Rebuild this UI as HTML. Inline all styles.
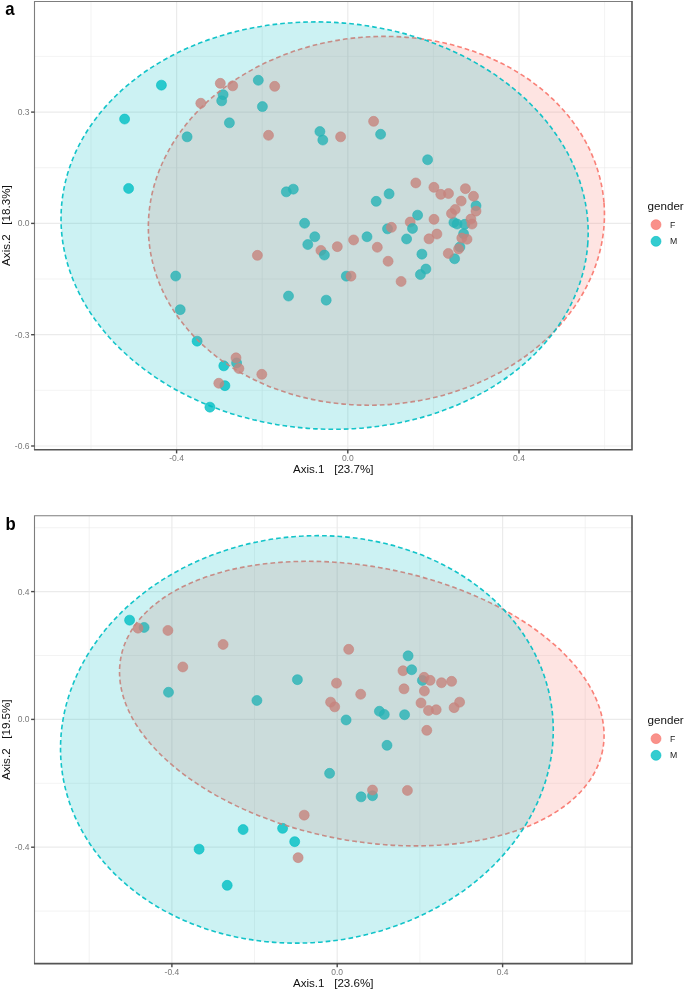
<!DOCTYPE html>
<html lang="en">
<head>
<meta charset="utf-8">
<title>PCoA by gender</title>
<style>
html,body{margin:0;padding:0;background:#fff;}
body{width:685px;height:991px;overflow:hidden;}
svg{display:block;will-change:transform;}
text{white-space:pre;font-family:"Liberation Sans",sans-serif;}
.tk{font-size:8.5px;fill:#787878;}
.lg{font-size:8.7px;fill:#1a1a1a;}
.tt{font-size:11.6px;fill:#111;}
.pl{font-size:18px;font-weight:bold;fill:#000;}
</style>
</head>
<body>
<svg width="685" height="991" viewBox="0 0 685 991">
<rect width="685" height="991" fill="#fff"/>
<g id="panel-a">
<line x1="91" y1="1.5" x2="91" y2="449.7" stroke="#ebebeb" stroke-width="0.6"/>
<line x1="262.2" y1="1.5" x2="262.2" y2="449.7" stroke="#ebebeb" stroke-width="0.6"/>
<line x1="433.4" y1="1.5" x2="433.4" y2="449.7" stroke="#ebebeb" stroke-width="0.6"/>
<line x1="604.6" y1="1.5" x2="604.6" y2="449.7" stroke="#ebebeb" stroke-width="0.6"/>
<line x1="34.5" y1="56.4" x2="632" y2="56.4" stroke="#ebebeb" stroke-width="0.6"/>
<line x1="34.5" y1="167.7" x2="632" y2="167.7" stroke="#ebebeb" stroke-width="0.6"/>
<line x1="34.5" y1="279" x2="632" y2="279" stroke="#ebebeb" stroke-width="0.6"/>
<line x1="34.5" y1="390.3" x2="632" y2="390.3" stroke="#ebebeb" stroke-width="0.6"/>
<line x1="176.6" y1="1.5" x2="176.6" y2="449.7" stroke="#ebebeb" stroke-width="1.2"/>
<line x1="347.8" y1="1.5" x2="347.8" y2="449.7" stroke="#ebebeb" stroke-width="1.2"/>
<line x1="519" y1="1.5" x2="519" y2="449.7" stroke="#ebebeb" stroke-width="1.2"/>
<line x1="34.5" y1="112.1" x2="632" y2="112.1" stroke="#ebebeb" stroke-width="1.2"/>
<line x1="34.5" y1="223.4" x2="632" y2="223.4" stroke="#ebebeb" stroke-width="1.2"/>
<line x1="34.5" y1="334.7" x2="632" y2="334.7" stroke="#ebebeb" stroke-width="1.2"/>
<line x1="34.5" y1="446" x2="632" y2="446" stroke="#ebebeb" stroke-width="1.2"/>
<circle cx="161.4" cy="85.15" r="5" fill="#00BFC4" fill-opacity="0.8" stroke="#00BFC4" stroke-opacity="0.8" stroke-width="0.7"/>
<circle cx="124.6" cy="119.05" r="5" fill="#00BFC4" fill-opacity="0.8" stroke="#00BFC4" stroke-opacity="0.8" stroke-width="0.7"/>
<circle cx="128.6" cy="188.45" r="5" fill="#00BFC4" fill-opacity="0.8" stroke="#00BFC4" stroke-opacity="0.8" stroke-width="0.7"/>
<circle cx="223.1" cy="94.65" r="5" fill="#00BFC4" fill-opacity="0.8" stroke="#00BFC4" stroke-opacity="0.8" stroke-width="0.7"/>
<circle cx="221.7" cy="100.85" r="5" fill="#00BFC4" fill-opacity="0.8" stroke="#00BFC4" stroke-opacity="0.8" stroke-width="0.7"/>
<circle cx="258.3" cy="80.25" r="5" fill="#00BFC4" fill-opacity="0.8" stroke="#00BFC4" stroke-opacity="0.8" stroke-width="0.7"/>
<circle cx="262.4" cy="106.6" r="5" fill="#00BFC4" fill-opacity="0.8" stroke="#00BFC4" stroke-opacity="0.8" stroke-width="0.7"/>
<circle cx="229.4" cy="122.85" r="5" fill="#00BFC4" fill-opacity="0.8" stroke="#00BFC4" stroke-opacity="0.8" stroke-width="0.7"/>
<circle cx="187.1" cy="136.85" r="5" fill="#00BFC4" fill-opacity="0.8" stroke="#00BFC4" stroke-opacity="0.8" stroke-width="0.7"/>
<circle cx="319.9" cy="131.55" r="5" fill="#00BFC4" fill-opacity="0.8" stroke="#00BFC4" stroke-opacity="0.8" stroke-width="0.7"/>
<circle cx="322.8" cy="140.05" r="5" fill="#00BFC4" fill-opacity="0.8" stroke="#00BFC4" stroke-opacity="0.8" stroke-width="0.7"/>
<circle cx="380.6" cy="134.25" r="5" fill="#00BFC4" fill-opacity="0.8" stroke="#00BFC4" stroke-opacity="0.8" stroke-width="0.7"/>
<circle cx="427.6" cy="159.75" r="5" fill="#00BFC4" fill-opacity="0.8" stroke="#00BFC4" stroke-opacity="0.8" stroke-width="0.7"/>
<circle cx="293.3" cy="189.15" r="5" fill="#00BFC4" fill-opacity="0.8" stroke="#00BFC4" stroke-opacity="0.8" stroke-width="0.7"/>
<circle cx="286.3" cy="191.85" r="5" fill="#00BFC4" fill-opacity="0.8" stroke="#00BFC4" stroke-opacity="0.8" stroke-width="0.7"/>
<circle cx="389.1" cy="193.85" r="5" fill="#00BFC4" fill-opacity="0.8" stroke="#00BFC4" stroke-opacity="0.8" stroke-width="0.7"/>
<circle cx="376.2" cy="201.35" r="5" fill="#00BFC4" fill-opacity="0.8" stroke="#00BFC4" stroke-opacity="0.8" stroke-width="0.7"/>
<circle cx="304.6" cy="223.25" r="5" fill="#00BFC4" fill-opacity="0.8" stroke="#00BFC4" stroke-opacity="0.8" stroke-width="0.7"/>
<circle cx="314.8" cy="236.75" r="5" fill="#00BFC4" fill-opacity="0.8" stroke="#00BFC4" stroke-opacity="0.8" stroke-width="0.7"/>
<circle cx="307.8" cy="244.55" r="5" fill="#00BFC4" fill-opacity="0.8" stroke="#00BFC4" stroke-opacity="0.8" stroke-width="0.7"/>
<circle cx="367" cy="236.75" r="5" fill="#00BFC4" fill-opacity="0.8" stroke="#00BFC4" stroke-opacity="0.8" stroke-width="0.7"/>
<circle cx="387.5" cy="228.85" r="5" fill="#00BFC4" fill-opacity="0.8" stroke="#00BFC4" stroke-opacity="0.8" stroke-width="0.7"/>
<circle cx="417.6" cy="215.15" r="5" fill="#00BFC4" fill-opacity="0.8" stroke="#00BFC4" stroke-opacity="0.8" stroke-width="0.7"/>
<circle cx="406.6" cy="238.95" r="5" fill="#00BFC4" fill-opacity="0.8" stroke="#00BFC4" stroke-opacity="0.8" stroke-width="0.7"/>
<circle cx="421.9" cy="254.15" r="5" fill="#00BFC4" fill-opacity="0.8" stroke="#00BFC4" stroke-opacity="0.8" stroke-width="0.7"/>
<circle cx="425.9" cy="269.05" r="5" fill="#00BFC4" fill-opacity="0.8" stroke="#00BFC4" stroke-opacity="0.8" stroke-width="0.7"/>
<circle cx="420.4" cy="274.55" r="5" fill="#00BFC4" fill-opacity="0.8" stroke="#00BFC4" stroke-opacity="0.8" stroke-width="0.7"/>
<circle cx="346.3" cy="276.15" r="5" fill="#00BFC4" fill-opacity="0.8" stroke="#00BFC4" stroke-opacity="0.8" stroke-width="0.7"/>
<circle cx="288.5" cy="296.05" r="5" fill="#00BFC4" fill-opacity="0.8" stroke="#00BFC4" stroke-opacity="0.8" stroke-width="0.7"/>
<circle cx="326.2" cy="300.15" r="5" fill="#00BFC4" fill-opacity="0.8" stroke="#00BFC4" stroke-opacity="0.8" stroke-width="0.7"/>
<circle cx="476" cy="205.75" r="5" fill="#00BFC4" fill-opacity="0.8" stroke="#00BFC4" stroke-opacity="0.8" stroke-width="0.7"/>
<circle cx="453.9" cy="222.45" r="5" fill="#00BFC4" fill-opacity="0.8" stroke="#00BFC4" stroke-opacity="0.8" stroke-width="0.7"/>
<circle cx="457.1" cy="224.05" r="5" fill="#00BFC4" fill-opacity="0.8" stroke="#00BFC4" stroke-opacity="0.8" stroke-width="0.7"/>
<circle cx="464.7" cy="224.35" r="5" fill="#00BFC4" fill-opacity="0.8" stroke="#00BFC4" stroke-opacity="0.8" stroke-width="0.7"/>
<circle cx="463.6" cy="233.75" r="5" fill="#00BFC4" fill-opacity="0.8" stroke="#00BFC4" stroke-opacity="0.8" stroke-width="0.7"/>
<circle cx="459.9" cy="246.95" r="5" fill="#00BFC4" fill-opacity="0.8" stroke="#00BFC4" stroke-opacity="0.8" stroke-width="0.7"/>
<circle cx="454.6" cy="258.75" r="5" fill="#00BFC4" fill-opacity="0.8" stroke="#00BFC4" stroke-opacity="0.8" stroke-width="0.7"/>
<circle cx="175.7" cy="276.05" r="5" fill="#00BFC4" fill-opacity="0.8" stroke="#00BFC4" stroke-opacity="0.8" stroke-width="0.7"/>
<circle cx="180.2" cy="309.65" r="5" fill="#00BFC4" fill-opacity="0.8" stroke="#00BFC4" stroke-opacity="0.8" stroke-width="0.7"/>
<circle cx="197.1" cy="341.15" r="5" fill="#00BFC4" fill-opacity="0.8" stroke="#00BFC4" stroke-opacity="0.8" stroke-width="0.7"/>
<circle cx="236.6" cy="362.95" r="5" fill="#00BFC4" fill-opacity="0.8" stroke="#00BFC4" stroke-opacity="0.8" stroke-width="0.7"/>
<circle cx="223.8" cy="365.85" r="5" fill="#00BFC4" fill-opacity="0.8" stroke="#00BFC4" stroke-opacity="0.8" stroke-width="0.7"/>
<circle cx="224.9" cy="385.65" r="5" fill="#00BFC4" fill-opacity="0.8" stroke="#00BFC4" stroke-opacity="0.8" stroke-width="0.7"/>
<circle cx="209.9" cy="407.15" r="5" fill="#00BFC4" fill-opacity="0.8" stroke="#00BFC4" stroke-opacity="0.8" stroke-width="0.7"/>
<circle cx="220.3" cy="83.35" r="5" fill="#F8766D" fill-opacity="0.8" stroke="#F8766D" stroke-opacity="0.8" stroke-width="0.7"/>
<circle cx="232.7" cy="85.85" r="5" fill="#F8766D" fill-opacity="0.8" stroke="#F8766D" stroke-opacity="0.8" stroke-width="0.7"/>
<circle cx="200.8" cy="103.25" r="5" fill="#F8766D" fill-opacity="0.8" stroke="#F8766D" stroke-opacity="0.8" stroke-width="0.7"/>
<circle cx="274.7" cy="86.35" r="5" fill="#F8766D" fill-opacity="0.8" stroke="#F8766D" stroke-opacity="0.8" stroke-width="0.7"/>
<circle cx="268.5" cy="135.3" r="5" fill="#F8766D" fill-opacity="0.8" stroke="#F8766D" stroke-opacity="0.8" stroke-width="0.7"/>
<circle cx="340.6" cy="136.85" r="5" fill="#F8766D" fill-opacity="0.8" stroke="#F8766D" stroke-opacity="0.8" stroke-width="0.7"/>
<circle cx="373.6" cy="121.35" r="5" fill="#F8766D" fill-opacity="0.8" stroke="#F8766D" stroke-opacity="0.8" stroke-width="0.7"/>
<circle cx="415.8" cy="182.95" r="5" fill="#F8766D" fill-opacity="0.8" stroke="#F8766D" stroke-opacity="0.8" stroke-width="0.7"/>
<circle cx="433.9" cy="187.35" r="5" fill="#F8766D" fill-opacity="0.8" stroke="#F8766D" stroke-opacity="0.8" stroke-width="0.7"/>
<circle cx="440.8" cy="194.35" r="5" fill="#F8766D" fill-opacity="0.8" stroke="#F8766D" stroke-opacity="0.8" stroke-width="0.7"/>
<circle cx="448.5" cy="193.55" r="5" fill="#F8766D" fill-opacity="0.8" stroke="#F8766D" stroke-opacity="0.8" stroke-width="0.7"/>
<circle cx="465.4" cy="188.65" r="5" fill="#F8766D" fill-opacity="0.8" stroke="#F8766D" stroke-opacity="0.8" stroke-width="0.7"/>
<circle cx="473.5" cy="196.25" r="5" fill="#F8766D" fill-opacity="0.8" stroke="#F8766D" stroke-opacity="0.8" stroke-width="0.7"/>
<circle cx="461.2" cy="201.05" r="5" fill="#F8766D" fill-opacity="0.8" stroke="#F8766D" stroke-opacity="0.8" stroke-width="0.7"/>
<circle cx="476" cy="211.15" r="5" fill="#F8766D" fill-opacity="0.8" stroke="#F8766D" stroke-opacity="0.8" stroke-width="0.7"/>
<circle cx="455.2" cy="209.45" r="5" fill="#F8766D" fill-opacity="0.8" stroke="#F8766D" stroke-opacity="0.8" stroke-width="0.7"/>
<circle cx="451.5" cy="213.55" r="5" fill="#F8766D" fill-opacity="0.8" stroke="#F8766D" stroke-opacity="0.8" stroke-width="0.7"/>
<circle cx="470.9" cy="219.05" r="5" fill="#F8766D" fill-opacity="0.8" stroke="#F8766D" stroke-opacity="0.8" stroke-width="0.7"/>
<circle cx="472" cy="224.05" r="5" fill="#F8766D" fill-opacity="0.8" stroke="#F8766D" stroke-opacity="0.8" stroke-width="0.7"/>
<circle cx="461.8" cy="238.05" r="5" fill="#F8766D" fill-opacity="0.8" stroke="#F8766D" stroke-opacity="0.8" stroke-width="0.7"/>
<circle cx="467" cy="239.25" r="5" fill="#F8766D" fill-opacity="0.8" stroke="#F8766D" stroke-opacity="0.8" stroke-width="0.7"/>
<circle cx="458.6" cy="248.95" r="5" fill="#F8766D" fill-opacity="0.8" stroke="#F8766D" stroke-opacity="0.8" stroke-width="0.7"/>
<circle cx="448.3" cy="253.45" r="5" fill="#F8766D" fill-opacity="0.8" stroke="#F8766D" stroke-opacity="0.8" stroke-width="0.7"/>
<circle cx="434" cy="219.35" r="5" fill="#F8766D" fill-opacity="0.8" stroke="#F8766D" stroke-opacity="0.8" stroke-width="0.7"/>
<circle cx="436.9" cy="234.05" r="5" fill="#F8766D" fill-opacity="0.8" stroke="#F8766D" stroke-opacity="0.8" stroke-width="0.7"/>
<circle cx="429" cy="238.85" r="5" fill="#F8766D" fill-opacity="0.8" stroke="#F8766D" stroke-opacity="0.8" stroke-width="0.7"/>
<circle cx="410.2" cy="222.05" r="5" fill="#F8766D" fill-opacity="0.8" stroke="#F8766D" stroke-opacity="0.8" stroke-width="0.7"/>
<circle cx="391.4" cy="227.35" r="5" fill="#F8766D" fill-opacity="0.8" stroke="#F8766D" stroke-opacity="0.8" stroke-width="0.7"/>
<circle cx="401.1" cy="281.45" r="5" fill="#F8766D" fill-opacity="0.8" stroke="#F8766D" stroke-opacity="0.8" stroke-width="0.7"/>
<circle cx="388.1" cy="261.25" r="5" fill="#F8766D" fill-opacity="0.8" stroke="#F8766D" stroke-opacity="0.8" stroke-width="0.7"/>
<circle cx="377.3" cy="247.25" r="5" fill="#F8766D" fill-opacity="0.8" stroke="#F8766D" stroke-opacity="0.8" stroke-width="0.7"/>
<circle cx="353.6" cy="239.95" r="5" fill="#F8766D" fill-opacity="0.8" stroke="#F8766D" stroke-opacity="0.8" stroke-width="0.7"/>
<circle cx="337.3" cy="246.65" r="5" fill="#F8766D" fill-opacity="0.8" stroke="#F8766D" stroke-opacity="0.8" stroke-width="0.7"/>
<circle cx="320.9" cy="250.45" r="5" fill="#F8766D" fill-opacity="0.8" stroke="#F8766D" stroke-opacity="0.8" stroke-width="0.7"/>
<circle cx="351" cy="276.15" r="5" fill="#F8766D" fill-opacity="0.8" stroke="#F8766D" stroke-opacity="0.8" stroke-width="0.7"/>
<circle cx="257.4" cy="255.35" r="5" fill="#F8766D" fill-opacity="0.8" stroke="#F8766D" stroke-opacity="0.8" stroke-width="0.7"/>
<circle cx="236" cy="357.85" r="5" fill="#F8766D" fill-opacity="0.8" stroke="#F8766D" stroke-opacity="0.8" stroke-width="0.7"/>
<circle cx="238.9" cy="368.55" r="5" fill="#F8766D" fill-opacity="0.8" stroke="#F8766D" stroke-opacity="0.8" stroke-width="0.7"/>
<circle cx="261.8" cy="374.35" r="5" fill="#F8766D" fill-opacity="0.8" stroke="#F8766D" stroke-opacity="0.8" stroke-width="0.7"/>
<circle cx="218.8" cy="383.25" r="5" fill="#F8766D" fill-opacity="0.8" stroke="#F8766D" stroke-opacity="0.8" stroke-width="0.7"/>
<circle cx="324.4" cy="255.05" r="5" fill="#00BFC4" fill-opacity="0.8" stroke="#00BFC4" stroke-opacity="0.8" stroke-width="0.7"/>
<circle cx="412.5" cy="228.45" r="5" fill="#00BFC4" fill-opacity="0.8" stroke="#00BFC4" stroke-opacity="0.8" stroke-width="0.7"/>
<ellipse cx="0" cy="0" rx="228.3" ry="184.1" transform="translate(376.4 220.8) rotate(-4.49)" fill="#F8766D" fill-opacity="0.2" stroke="#F8766D" stroke-width="1.6" stroke-opacity="0.92" stroke-dasharray="4.7 3"/>
<ellipse cx="0" cy="0" rx="263.8" ry="203.4" transform="translate(324.6 225.6) rotate(3.73)" fill="#00BFC4" fill-opacity="0.2" stroke="#00BFC4" stroke-width="1.6" stroke-opacity="0.92" stroke-dasharray="4.7 3"/>
<path d="M34.5 449.7 V1.5 H632" fill="none" stroke="#7d7d7d" stroke-width="1.1"/>
<path d="M33.95 449.7 H632 V0.95" fill="none" stroke="#555" stroke-width="1.6" stroke-linejoin="miter"/>
<line x1="176.6" y1="449.7" x2="176.6" y2="453.4" stroke="#484848" stroke-width="1.4"/>
<text x="176.6" y="460.9" class="tk" text-anchor="middle">-0.4</text>
<line x1="347.8" y1="449.7" x2="347.8" y2="453.4" stroke="#484848" stroke-width="1.4"/>
<text x="347.8" y="460.9" class="tk" text-anchor="middle">0.0</text>
<line x1="519" y1="449.7" x2="519" y2="453.4" stroke="#484848" stroke-width="1.4"/>
<text x="519" y="460.9" class="tk" text-anchor="middle">0.4</text>
<line x1="31.1" y1="112.1" x2="34.5" y2="112.1" stroke="#484848" stroke-width="1.4"/>
<text x="29.5" y="115.15" class="tk" text-anchor="end">0.3</text>
<line x1="31.1" y1="223.4" x2="34.5" y2="223.4" stroke="#484848" stroke-width="1.4"/>
<text x="29.5" y="226.45" class="tk" text-anchor="end">0.0</text>
<line x1="31.1" y1="334.7" x2="34.5" y2="334.7" stroke="#484848" stroke-width="1.4"/>
<text x="29.5" y="337.75" class="tk" text-anchor="end">-0.3</text>
<line x1="31.1" y1="446" x2="34.5" y2="446" stroke="#484848" stroke-width="1.4"/>
<text x="29.5" y="449.05" class="tk" text-anchor="end">-0.6</text>
<text x="333.25" y="472.9" class="tt" text-anchor="middle" xml:space="preserve">Axis.1   [23.7%]</text>
<text transform="translate(10.3 225.6) rotate(-90)" class="tt" text-anchor="middle" xml:space="preserve">Axis.2   [18.3%]</text>
<text transform="translate(5.2 14.9) scale(0.93 1)" class="pl">a</text>
<text x="647.6" y="209.5" class="tt">gender</text>
<circle cx="656" cy="224.65" r="5" fill="#F8766D" fill-opacity="0.8" stroke="#F8766D" stroke-opacity="0.8" stroke-width="0.7"/>
<circle cx="656" cy="241.35" r="5" fill="#00BFC4" fill-opacity="0.8" stroke="#00BFC4" stroke-opacity="0.8" stroke-width="0.7"/>
<text x="670" y="227.75" class="lg">F</text>
<text x="670" y="244.45" class="lg">M</text>
</g>
<g id="panel-b">
<line x1="89.2" y1="515.8" x2="89.2" y2="963.6" stroke="#ebebeb" stroke-width="0.6"/>
<line x1="254.5" y1="515.8" x2="254.5" y2="963.6" stroke="#ebebeb" stroke-width="0.6"/>
<line x1="419.9" y1="515.8" x2="419.9" y2="963.6" stroke="#ebebeb" stroke-width="0.6"/>
<line x1="585.2" y1="515.8" x2="585.2" y2="963.6" stroke="#ebebeb" stroke-width="0.6"/>
<line x1="34.5" y1="527.7" x2="632" y2="527.7" stroke="#ebebeb" stroke-width="0.6"/>
<line x1="34.5" y1="655.5" x2="632" y2="655.5" stroke="#ebebeb" stroke-width="0.6"/>
<line x1="34.5" y1="783.3" x2="632" y2="783.3" stroke="#ebebeb" stroke-width="0.6"/>
<line x1="34.5" y1="911.1" x2="632" y2="911.1" stroke="#ebebeb" stroke-width="0.6"/>
<line x1="171.9" y1="515.8" x2="171.9" y2="963.6" stroke="#ebebeb" stroke-width="1.2"/>
<line x1="337.2" y1="515.8" x2="337.2" y2="963.6" stroke="#ebebeb" stroke-width="1.2"/>
<line x1="502.6" y1="515.8" x2="502.6" y2="963.6" stroke="#ebebeb" stroke-width="1.2"/>
<line x1="34.5" y1="591.6" x2="632" y2="591.6" stroke="#ebebeb" stroke-width="1.2"/>
<line x1="34.5" y1="719.4" x2="632" y2="719.4" stroke="#ebebeb" stroke-width="1.2"/>
<line x1="34.5" y1="847.2" x2="632" y2="847.2" stroke="#ebebeb" stroke-width="1.2"/>
<circle cx="129.6" cy="620.15" r="5" fill="#00BFC4" fill-opacity="0.8" stroke="#00BFC4" stroke-opacity="0.8" stroke-width="0.7"/>
<circle cx="144.1" cy="627.45" r="5" fill="#00BFC4" fill-opacity="0.8" stroke="#00BFC4" stroke-opacity="0.8" stroke-width="0.7"/>
<circle cx="168.5" cy="692.25" r="5" fill="#00BFC4" fill-opacity="0.8" stroke="#00BFC4" stroke-opacity="0.8" stroke-width="0.7"/>
<circle cx="256.9" cy="700.45" r="5" fill="#00BFC4" fill-opacity="0.8" stroke="#00BFC4" stroke-opacity="0.8" stroke-width="0.7"/>
<circle cx="297.4" cy="679.65" r="5" fill="#00BFC4" fill-opacity="0.8" stroke="#00BFC4" stroke-opacity="0.8" stroke-width="0.7"/>
<circle cx="408.1" cy="655.85" r="5" fill="#00BFC4" fill-opacity="0.8" stroke="#00BFC4" stroke-opacity="0.8" stroke-width="0.7"/>
<circle cx="346.1" cy="719.95" r="5" fill="#00BFC4" fill-opacity="0.8" stroke="#00BFC4" stroke-opacity="0.8" stroke-width="0.7"/>
<circle cx="379.4" cy="711.25" r="5" fill="#00BFC4" fill-opacity="0.8" stroke="#00BFC4" stroke-opacity="0.8" stroke-width="0.7"/>
<circle cx="384.3" cy="714.45" r="5" fill="#00BFC4" fill-opacity="0.8" stroke="#00BFC4" stroke-opacity="0.8" stroke-width="0.7"/>
<circle cx="404.6" cy="714.75" r="5" fill="#00BFC4" fill-opacity="0.8" stroke="#00BFC4" stroke-opacity="0.8" stroke-width="0.7"/>
<circle cx="422.4" cy="680.45" r="5" fill="#00BFC4" fill-opacity="0.8" stroke="#00BFC4" stroke-opacity="0.8" stroke-width="0.7"/>
<circle cx="387" cy="745.35" r="5" fill="#00BFC4" fill-opacity="0.8" stroke="#00BFC4" stroke-opacity="0.8" stroke-width="0.7"/>
<circle cx="329.6" cy="773.35" r="5" fill="#00BFC4" fill-opacity="0.8" stroke="#00BFC4" stroke-opacity="0.8" stroke-width="0.7"/>
<circle cx="361.1" cy="796.85" r="5" fill="#00BFC4" fill-opacity="0.8" stroke="#00BFC4" stroke-opacity="0.8" stroke-width="0.7"/>
<circle cx="372.5" cy="795.75" r="5" fill="#00BFC4" fill-opacity="0.8" stroke="#00BFC4" stroke-opacity="0.8" stroke-width="0.7"/>
<circle cx="282.6" cy="828.35" r="5" fill="#00BFC4" fill-opacity="0.8" stroke="#00BFC4" stroke-opacity="0.8" stroke-width="0.7"/>
<circle cx="243.1" cy="829.55" r="5" fill="#00BFC4" fill-opacity="0.8" stroke="#00BFC4" stroke-opacity="0.8" stroke-width="0.7"/>
<circle cx="294.7" cy="841.65" r="5" fill="#00BFC4" fill-opacity="0.8" stroke="#00BFC4" stroke-opacity="0.8" stroke-width="0.7"/>
<circle cx="199.1" cy="849.15" r="5" fill="#00BFC4" fill-opacity="0.8" stroke="#00BFC4" stroke-opacity="0.8" stroke-width="0.7"/>
<circle cx="227.2" cy="885.35" r="5" fill="#00BFC4" fill-opacity="0.8" stroke="#00BFC4" stroke-opacity="0.8" stroke-width="0.7"/>
<circle cx="138" cy="628.15" r="5" fill="#F8766D" fill-opacity="0.8" stroke="#F8766D" stroke-opacity="0.8" stroke-width="0.7"/>
<circle cx="167.9" cy="630.45" r="5" fill="#F8766D" fill-opacity="0.8" stroke="#F8766D" stroke-opacity="0.8" stroke-width="0.7"/>
<circle cx="223.1" cy="644.45" r="5" fill="#F8766D" fill-opacity="0.8" stroke="#F8766D" stroke-opacity="0.8" stroke-width="0.7"/>
<circle cx="182.8" cy="666.95" r="5" fill="#F8766D" fill-opacity="0.8" stroke="#F8766D" stroke-opacity="0.8" stroke-width="0.7"/>
<circle cx="348.7" cy="649.35" r="5" fill="#F8766D" fill-opacity="0.8" stroke="#F8766D" stroke-opacity="0.8" stroke-width="0.7"/>
<circle cx="403" cy="670.75" r="5" fill="#F8766D" fill-opacity="0.8" stroke="#F8766D" stroke-opacity="0.8" stroke-width="0.7"/>
<circle cx="336.5" cy="683.15" r="5" fill="#F8766D" fill-opacity="0.8" stroke="#F8766D" stroke-opacity="0.8" stroke-width="0.7"/>
<circle cx="360.7" cy="694.25" r="5" fill="#F8766D" fill-opacity="0.8" stroke="#F8766D" stroke-opacity="0.8" stroke-width="0.7"/>
<circle cx="330.6" cy="702.15" r="5" fill="#F8766D" fill-opacity="0.8" stroke="#F8766D" stroke-opacity="0.8" stroke-width="0.7"/>
<circle cx="334.7" cy="706.85" r="5" fill="#F8766D" fill-opacity="0.8" stroke="#F8766D" stroke-opacity="0.8" stroke-width="0.7"/>
<circle cx="404" cy="688.85" r="5" fill="#F8766D" fill-opacity="0.8" stroke="#F8766D" stroke-opacity="0.8" stroke-width="0.7"/>
<circle cx="424.1" cy="677.35" r="5" fill="#F8766D" fill-opacity="0.8" stroke="#F8766D" stroke-opacity="0.8" stroke-width="0.7"/>
<circle cx="430.1" cy="680.35" r="5" fill="#F8766D" fill-opacity="0.8" stroke="#F8766D" stroke-opacity="0.8" stroke-width="0.7"/>
<circle cx="441.5" cy="682.75" r="5" fill="#F8766D" fill-opacity="0.8" stroke="#F8766D" stroke-opacity="0.8" stroke-width="0.7"/>
<circle cx="451.6" cy="681.35" r="5" fill="#F8766D" fill-opacity="0.8" stroke="#F8766D" stroke-opacity="0.8" stroke-width="0.7"/>
<circle cx="424.4" cy="691.05" r="5" fill="#F8766D" fill-opacity="0.8" stroke="#F8766D" stroke-opacity="0.8" stroke-width="0.7"/>
<circle cx="421" cy="702.95" r="5" fill="#F8766D" fill-opacity="0.8" stroke="#F8766D" stroke-opacity="0.8" stroke-width="0.7"/>
<circle cx="428.5" cy="710.55" r="5" fill="#F8766D" fill-opacity="0.8" stroke="#F8766D" stroke-opacity="0.8" stroke-width="0.7"/>
<circle cx="436.2" cy="709.75" r="5" fill="#F8766D" fill-opacity="0.8" stroke="#F8766D" stroke-opacity="0.8" stroke-width="0.7"/>
<circle cx="454.1" cy="707.65" r="5" fill="#F8766D" fill-opacity="0.8" stroke="#F8766D" stroke-opacity="0.8" stroke-width="0.7"/>
<circle cx="459.6" cy="702.15" r="5" fill="#F8766D" fill-opacity="0.8" stroke="#F8766D" stroke-opacity="0.8" stroke-width="0.7"/>
<circle cx="426.8" cy="730.35" r="5" fill="#F8766D" fill-opacity="0.8" stroke="#F8766D" stroke-opacity="0.8" stroke-width="0.7"/>
<circle cx="372.5" cy="790.05" r="5" fill="#F8766D" fill-opacity="0.8" stroke="#F8766D" stroke-opacity="0.8" stroke-width="0.7"/>
<circle cx="407.4" cy="790.45" r="5" fill="#F8766D" fill-opacity="0.8" stroke="#F8766D" stroke-opacity="0.8" stroke-width="0.7"/>
<circle cx="304.2" cy="815.15" r="5" fill="#F8766D" fill-opacity="0.8" stroke="#F8766D" stroke-opacity="0.8" stroke-width="0.7"/>
<circle cx="298.1" cy="857.65" r="5" fill="#F8766D" fill-opacity="0.8" stroke="#F8766D" stroke-opacity="0.8" stroke-width="0.7"/>
<circle cx="411.7" cy="669.75" r="5" fill="#00BFC4" fill-opacity="0.8" stroke="#00BFC4" stroke-opacity="0.8" stroke-width="0.7"/>
<ellipse cx="0" cy="0" rx="245.3" ry="137" transform="translate(361.8 703.6) rotate(10.89)" fill="#F8766D" fill-opacity="0.2" stroke="#F8766D" stroke-width="1.6" stroke-opacity="0.92" stroke-dasharray="4.7 3"/>
<ellipse cx="0" cy="0" rx="246.9" ry="203.1" transform="translate(306.9 739.4) rotate(-6.63)" fill="#00BFC4" fill-opacity="0.2" stroke="#00BFC4" stroke-width="1.6" stroke-opacity="0.92" stroke-dasharray="4.7 3"/>
<path d="M34.5 963.6 V515.8 H632" fill="none" stroke="#7d7d7d" stroke-width="1.1"/>
<path d="M33.95 963.6 H632 V515.25" fill="none" stroke="#555" stroke-width="1.6" stroke-linejoin="miter"/>
<line x1="171.9" y1="963.6" x2="171.9" y2="967.3" stroke="#484848" stroke-width="1.4"/>
<text x="171.9" y="974.8" class="tk" text-anchor="middle">-0.4</text>
<line x1="337.2" y1="963.6" x2="337.2" y2="967.3" stroke="#484848" stroke-width="1.4"/>
<text x="337.2" y="974.8" class="tk" text-anchor="middle">0.0</text>
<line x1="502.6" y1="963.6" x2="502.6" y2="967.3" stroke="#484848" stroke-width="1.4"/>
<text x="502.6" y="974.8" class="tk" text-anchor="middle">0.4</text>
<line x1="31.1" y1="591.6" x2="34.5" y2="591.6" stroke="#484848" stroke-width="1.4"/>
<text x="29.5" y="594.65" class="tk" text-anchor="end">0.4</text>
<line x1="31.1" y1="719.4" x2="34.5" y2="719.4" stroke="#484848" stroke-width="1.4"/>
<text x="29.5" y="722.45" class="tk" text-anchor="end">0.0</text>
<line x1="31.1" y1="847.2" x2="34.5" y2="847.2" stroke="#484848" stroke-width="1.4"/>
<text x="29.5" y="850.25" class="tk" text-anchor="end">-0.4</text>
<text x="333.25" y="986.8" class="tt" text-anchor="middle" xml:space="preserve">Axis.1   [23.6%]</text>
<text transform="translate(10.3 739.7) rotate(-90)" class="tt" text-anchor="middle" xml:space="preserve">Axis.2   [19.5%]</text>
<text transform="translate(5.6 529.8) scale(0.93 1)" class="pl">b</text>
<text x="647.6" y="723.5" class="tt">gender</text>
<circle cx="656" cy="738.65" r="5" fill="#F8766D" fill-opacity="0.8" stroke="#F8766D" stroke-opacity="0.8" stroke-width="0.7"/>
<circle cx="656" cy="755.35" r="5" fill="#00BFC4" fill-opacity="0.8" stroke="#00BFC4" stroke-opacity="0.8" stroke-width="0.7"/>
<text x="670" y="741.75" class="lg">F</text>
<text x="670" y="758.45" class="lg">M</text>
</g>
</svg>
</body>
</html>
